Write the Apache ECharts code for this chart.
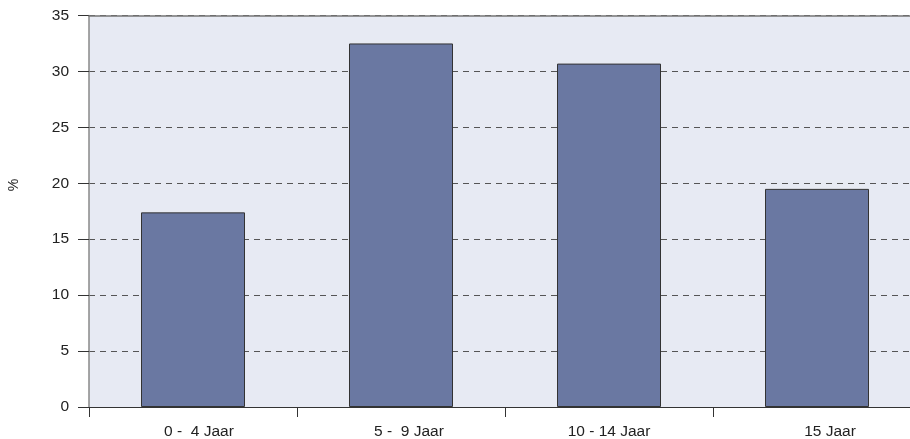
<!DOCTYPE html>
<html>
<head>
<meta charset="utf-8">
<script src="https://cdn.jsdelivr.net/npm/echarts@6/dist/echarts.min.js"></script>
<style>
html,body{margin:0;padding:0;background:#fff;overflow:hidden;width:910px;height:439px;}
#c{width:930px;height:439px;}
</style>
</head>
<body>
<div id="c"></div>
<script>
// ---- data ----
const categories = ['0 -  4 Jaar', '5 -  9 Jaar', '10 - 14 Jaar', '15 Jaar'];
const values = [17.4, 32.5, 30.7, 19.5];
const yTicks = [0, 5, 10, 15, 20, 25, 30, 35];
const yAxisTitle = '%';

// ---- layout / style ----
const labelShift = [12, 16, 0, 26]; // left padding to mimic label offsets
const FONT = "'Liberation Sans', Arial, Helvetica, sans-serif";

const chart = echarts.init(document.getElementById('c'));
chart.setOption({
  animation: false,
  grid: {
    left: 89, top: 15.5, height: 391.5, width: 832,
    outerBoundsMode: 'none',
    show: true, backgroundColor: '#e7eaf3', borderWidth: 0
  },
  xAxis: [{
    type: 'category',
    data: categories.map((c, i) => ({
      value: c,
      textStyle: { padding: [0, 0, 0, labelShift[i]] }
    })),
    boundaryGap: true,
    axisLine: { lineStyle: { color: '#333', width: 1 } },
    axisTick: { show: true, length: 10, alignWithLabel: false, lineStyle: { color: '#333' } },
    axisLabel: { color: '#222', fontSize: 15.5, fontFamily: FONT, margin: 17 },
    splitLine: { show: false }
  }, {
    type: 'category',
    position: 'top',
    data: categories,
    z: 5,
    axisLine: { lineStyle: { color: '#777', width: 1.5 } },
    axisTick: { show: false },
    axisLabel: { show: false }
  }],
  yAxis: {
    type: 'value',
    min: yTicks[0], max: yTicks[yTicks.length - 1], interval: 5,
    axisLine: { show: true, lineStyle: { color: '#888', width: 1.5 } },
    axisTick: { show: true, length: 11, lineStyle: { color: '#333' } },
    axisLabel: { color: '#222', fontSize: 15.5, fontFamily: FONT, margin: 20 },
    splitLine: {
      show: true,
      lineStyle: { color: '#555', type: [6, 5], width: 1 }
    }
  },
  graphic: [{
    type: 'text',
    x: 14, y: 185,
    rotation: Math.PI / 2,
    style: { text: yAxisTitle, fill: '#222', font: '14px ' + FONT, textAlign: 'center', textVerticalAlign: 'middle' }
  }],
  series: [{
    type: 'bar',
    data: values,
    barCategoryGap: '50%',
    itemStyle: { color: '#6a78a2', borderColor: '#333', borderWidth: 1 }
  }]
});
</script>
</body>
</html>
